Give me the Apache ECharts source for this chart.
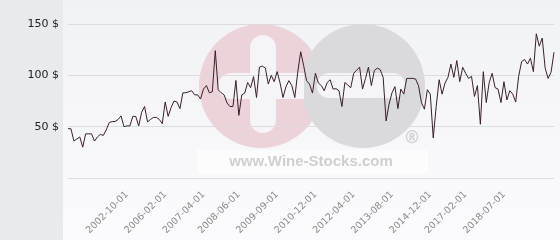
<!DOCTYPE html>
<html>
<head>
<meta charset="utf-8">
<script src="https://cdn.jsdelivr.net/npm/echarts@6/dist/echarts.min.js"></script>
<style>
html,body{margin:0;padding:0;}
#c{width:560px;height:240px;background:linear-gradient(to right,#e8eaed 0,#e8eaed 63px,transparent 63px),linear-gradient(to bottom,#f1f2f6,#fbfbfd);}
</style>
</head>
<body>
<div id="c"></div>
<script>
// price series (USD), one value per observation, in chart order
const values = [
48,48,36,38,40,30,43,43,43,36,40,42.5,41.5,47,54,55,55,57,60.5,50,
50.7,50.7,60,60,50.7,64,69.6,54.6,57,59,59,57,53,74,60,68.6,75,74,67.6,83,
83,84,85,81,81,77,86.6,90,83,84,
124,86,83,81,73,69.6,69.6,95,61,81,82.7,93,88,98.7,78.4,108,109,107,91.5,100,
93.8,103.6,92.5,78.4,89,94.8,90,78.4,103,123,
109.5,94.8,91.5,82.7,102,92.5,90,85,93,95.7,86.6,87,85,69.6,93,90.5,88,102,105,
108,86.6,97,108,90,104.6,107,105.6,98,
55.6,72,83,89,67.6,86.6,81.7,97,97,
97,96.4,90,73.5,67,86,81.7,39,69.6,95.7,
81.7,92.5,98,111,98,114.4,93.8,107.8,102,97,
99,79.4,90,52.3,103.6,73.5,93,102,88,86.6,
73.5,93.8,76,85,81.7,74,99,113.4,115.4,111,
116.7,103.6,140.5,128.4,136.3,107,97,103,122.5
];
// x-axis tick labels and the observation index they sit on
const tickLabels = ['2002-10-01','2006-02-01','2007-04-01','2008-06-01','2009-09-01','2010-12-01','2012-04-01','2013-08-01','2014-12-01','2017-02-01','2018-07-01'];
const tickIndex  = [20,33,46,58,71,84,97,110,123,135,148];
// y-axis tick values
const yTicks = [0,50,100,150];

const categories = values.map((v,i)=>{const k=tickIndex.indexOf(i);return k>=0?tickLabels[k]:('p'+i);});

const chart = echarts.init(document.getElementById('c'),null,{renderer:'canvas'});
chart.setOption({
  backgroundColor:'transparent',
  animation:false,
  grid:{left:68,right:6,top:24,bottom:62,containLabel:false},
  xAxis:{
    type:'category',data:categories,boundaryGap:false,z:1,
    axisLine:{show:false},axisTick:{show:false},splitLine:{show:false},
    axisLabel:{rotate:45,fontSize:9.5,color:'#8a8a8a',fontFamily:'DejaVu Sans',margin:15,
      interval:(i)=>tickIndex.indexOf(i)>=0}
  },
  yAxis:{
    type:'value',min:yTicks[0],max:yTicks[yTicks.length-1],interval:50,z:1,
    axisLine:{show:false},axisTick:{show:false},
    splitLine:{lineStyle:{color:'#dcdcde',width:1}},
    axisLabel:{fontSize:11,color:'#222',fontFamily:'DejaVu Sans',margin:9,
      formatter:(v)=>v===0?'':v+' $'}
  },
  graphic:[
    {type:'circle',shape:{cx:261,cy:86,r:62},style:{fill:'#ecd2d9'},z:-3,silent:true},
    {type:'circle',shape:{cx:363,cy:86,r:62},style:{fill:'#dadadc'},z:-3,silent:true},
    {type:'rect',shape:{x:218,y:73,width:86,height:26,r:[13,0,0,13]},style:{fill:'#f5f5f8'},z:-2,silent:true},
    {type:'rect',shape:{x:250,y:35,width:26,height:98,r:13},style:{fill:'#f5f5f8'},z:-2,silent:true},
    {type:'rect',shape:{x:317,y:73,width:88,height:25,r:12},style:{fill:'#f5f5f8'},z:-2,silent:true},
    {type:'rect',shape:{x:197,y:150,width:231,height:24},style:{fill:'rgba(255,255,255,0.55)'},z:-2,silent:true},
    {type:'text',style:{x:311,y:162,text:'www.Wine-Stocks.com',fill:'#cfcfd2',font:'bold 15px "Liberation Sans"',textAlign:'center',textVerticalAlign:'middle'},z:-2,silent:true},
    {type:'text',style:{x:412,y:139,text:'®',fill:'#d2d2d5',font:'bold 17px "DejaVu Sans"',textAlign:'center',textVerticalAlign:'middle'},z:-2,silent:true}
  ],
  series:[{
    type:'line',data:values,showSymbol:false,symbol:'none',
    lineStyle:{color:'#3a1e2a',width:1},z:3
  }]
});
</script>
</body>
</html>
